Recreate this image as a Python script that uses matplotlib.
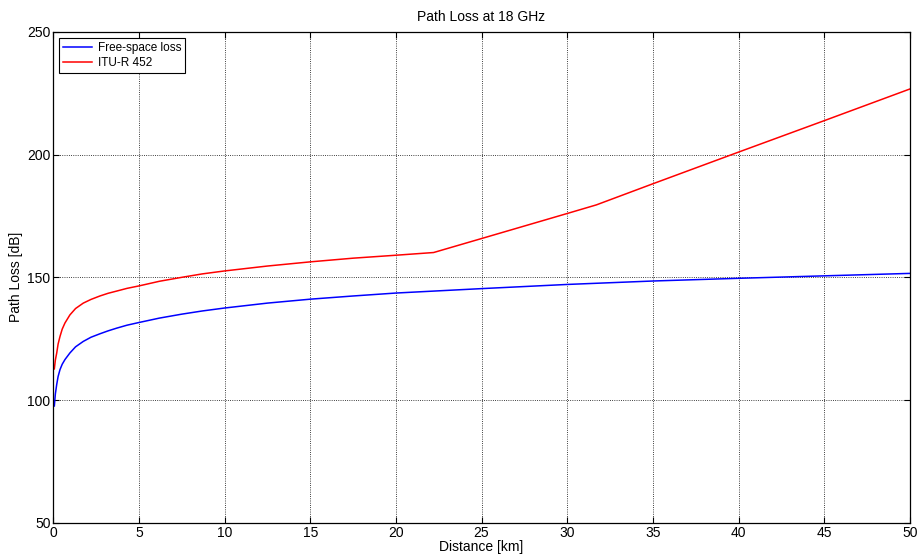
import matplotlib
matplotlib.use("Agg")
import matplotlib.pyplot as plt

# values
dist_fs = [0.06, 0.12, 0.2, 0.28, 0.39, 0.52, 0.68, 0.97, 1.3, 1.75, 2.2, 2.72, 3.2, 3.7,
           4.3, 5, 6.2, 7.5, 8.7, 10, 12.5, 15, 17.5, 20, 25, 30, 35, 40, 45, 50]
loss_fs = [97.6, 102.5, 106.4, 109.6, 112.4, 114.6, 116.5, 119.2, 121.7, 123.9, 125.6,
           127.0, 128.2, 129.3, 130.5, 131.6, 133.4, 135.0, 136.3, 137.5, 139.5, 141.1,
           142.4, 143.6, 145.4, 147.1, 148.5, 149.6, 150.6, 151.6]

dist_itu = [0.06, 0.12, 0.2, 0.28, 0.39, 0.52, 0.68, 0.97, 1.3, 1.75, 2.2, 2.72, 3.2, 3.7,
            4.3, 5, 6.2, 7.5, 8.7, 10, 12.5, 15, 17.5, 20, 22.2, 25, 30, 31.7, 35, 40, 45, 50]
loss_itu = [112.7, 116.3, 119.2, 122.8, 125.9, 128.9, 131.4, 134.7, 137.3, 139.5, 141.0,
            142.4, 143.5, 144.4, 145.5, 146.5, 148.4, 150.0, 151.4, 152.6, 154.6, 156.3,
            157.8, 159.0, 160.1, 165.8, 176.0, 179.5, 188.1, 201.0, 213.8, 226.7]

x_ticks = [0, 5, 10, 15, 20, 25, 30, 35, 40, 45, 50]
y_ticks = [50, 100, 150, 200, 250]

plt.rcParams['font.family'] = ['Liberation Sans', 'DejaVu Sans']
plt.rcParams['font.size'] = 10

fig = plt.figure(figsize=(9.19, 5.58), dpi=100)
ax = fig.add_axes([0.058, 0.063, 0.932, 0.880])

ax.plot(dist_fs, loss_fs, color='#0000ff', linewidth=1.1, label='Free-space loss')
ax.plot(dist_itu, loss_itu, color='#ff0000', linewidth=1.1, label='ITU-R 452')

ax.set_xlim(0, 50)
ax.set_ylim(50, 250)
ax.set_xticks(x_ticks)
ax.set_yticks(y_ticks)
ax.tick_params(direction='in', top=True, right=True, length=4, width=0.8, pad=2)
ax.grid(True, linestyle=':', color='black', linewidth=0.6)
for s in ax.spines.values():
    s.set_linewidth(0.9)

ax.set_xlabel('Distance [km]', labelpad=0)
ax.set_ylabel('Path Loss [dB]', labelpad=3)
ax.set_title('Path Loss at 18 GHz', fontsize=10, pad=8)

leg = ax.legend(loc='upper left', fancybox=False, edgecolor='black', framealpha=1,
                fontsize=8.5, handlelength=2.4, handletextpad=0.5, borderaxespad=0.5,
                borderpad=0.35, labelspacing=0.25)
leg.get_frame().set_linewidth(0.8)

fig.savefig('out.png', dpi=100)
